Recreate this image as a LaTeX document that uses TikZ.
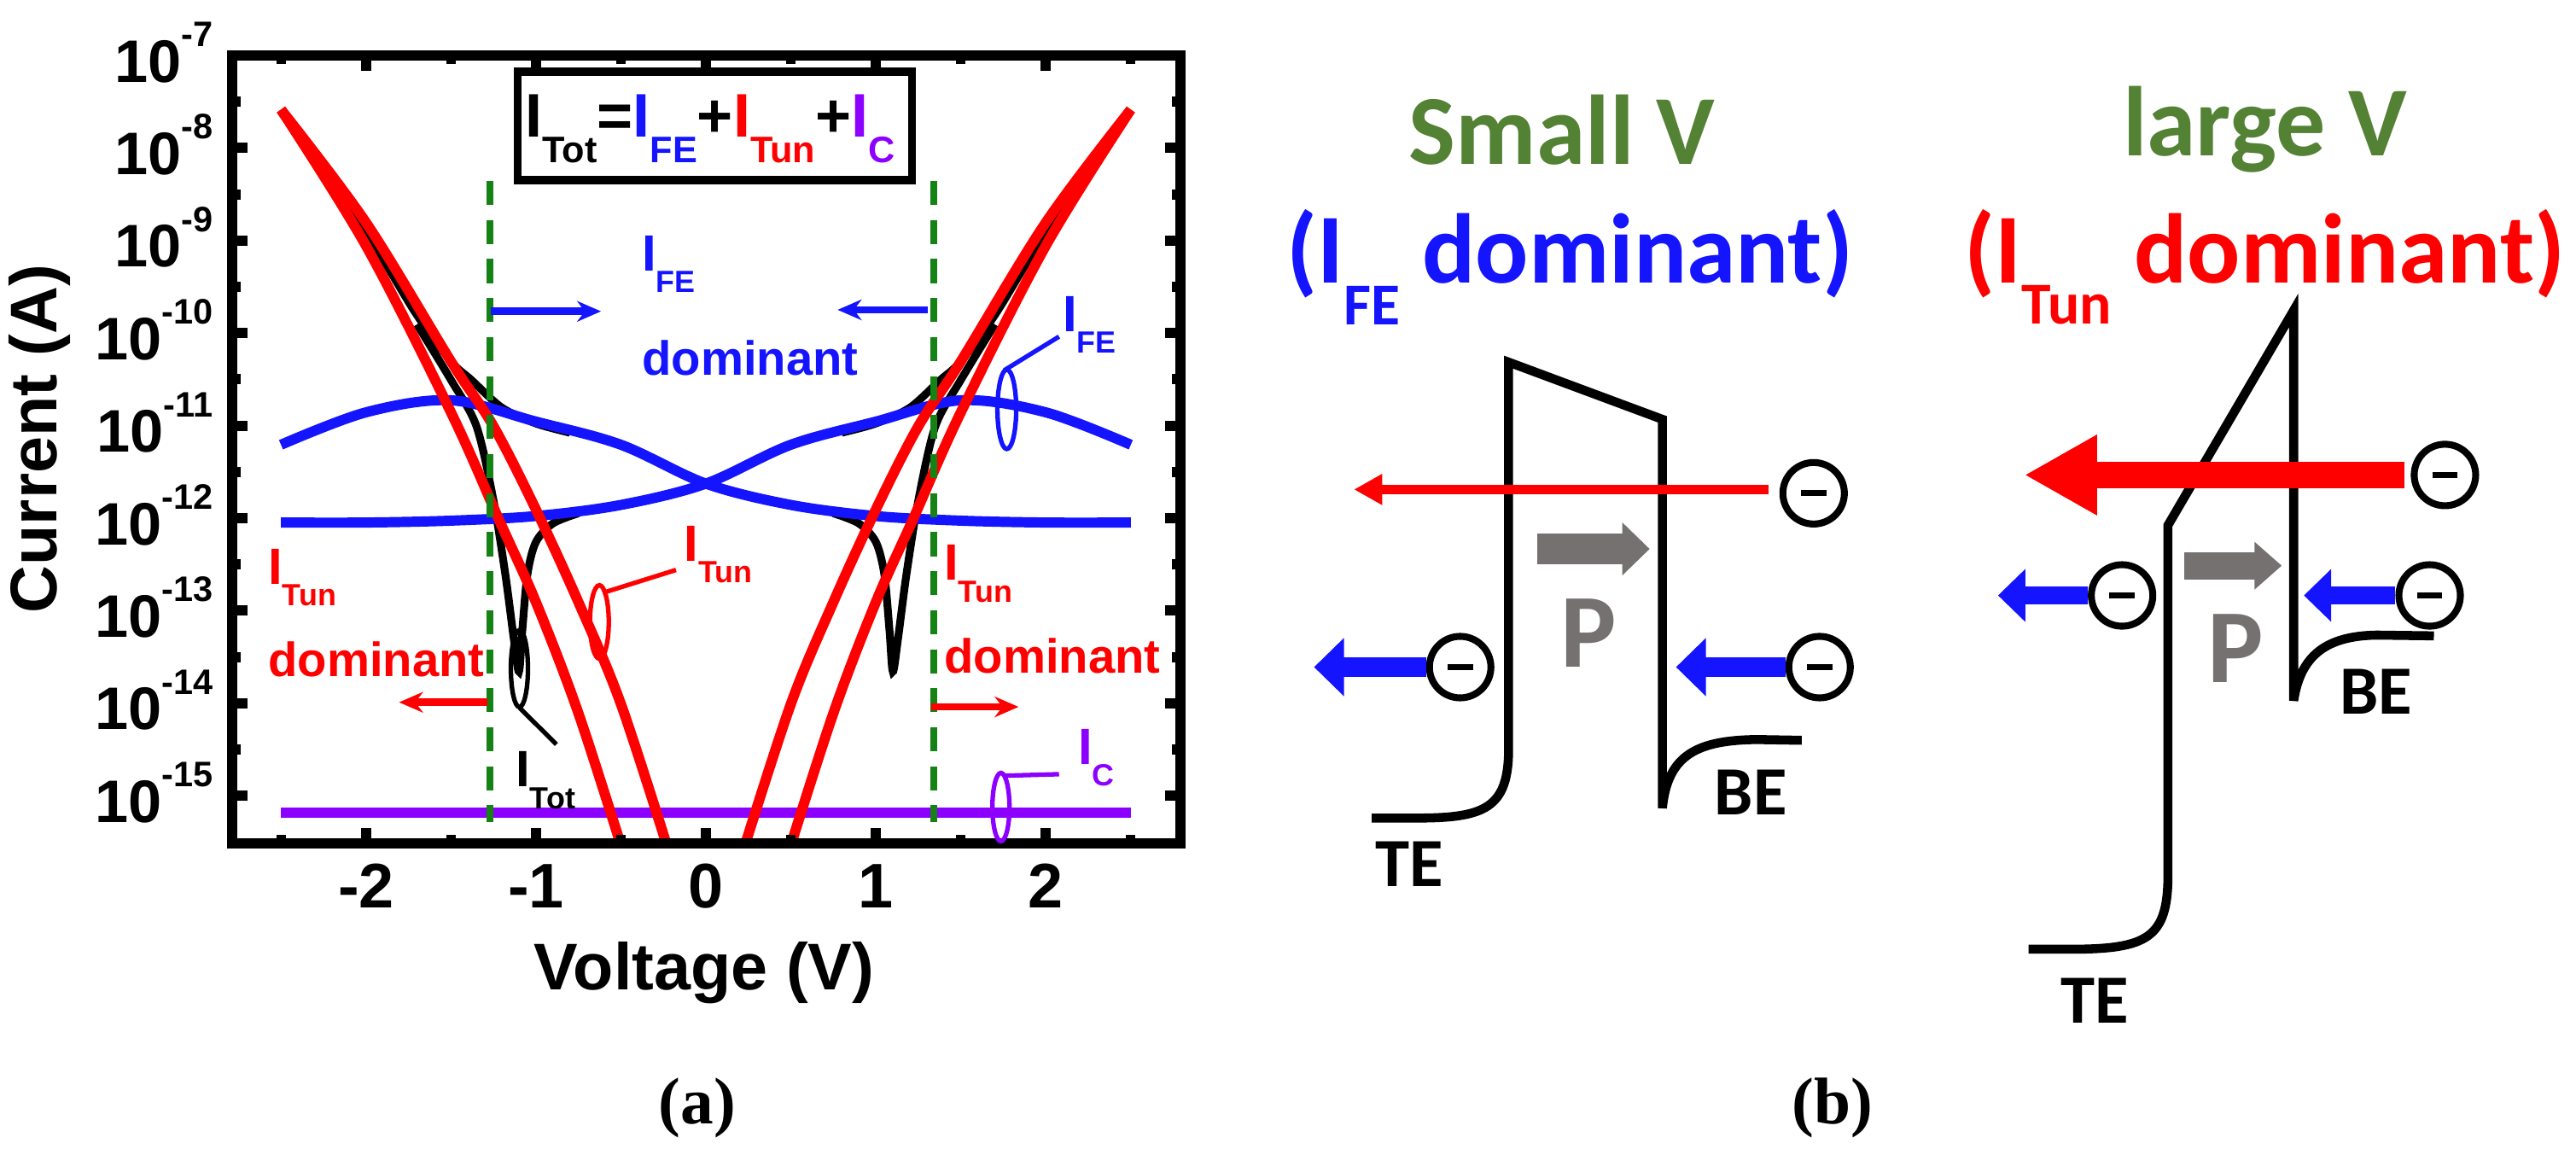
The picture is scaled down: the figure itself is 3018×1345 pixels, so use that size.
\documentclass[tikz,border=0pt]{standalone}
\usepackage{fontspec}
\setmainfont{Liberation Sans}
\newfontfamily\calfont{Carlito}
\newfontfamily\serfont{Liberation Serif}
\usetikzlibrary{arrows.meta,shapes.geometric}
\definecolor{fgreen}{RGB}{84,130,53}
\definecolor{dgreen}{RGB}{20,130,20}
\definecolor{pblue}{RGB}{20,20,255}
\definecolor{pred}{RGB}{255,0,0}
\definecolor{ppur}{RGB}{140,0,255}
\definecolor{pgray}{RGB}{118,113,113}
\newcommand\lo[1]{\raisebox{-0.42em}{\scalebox{0.6}{#1}}}
\newcommand\hi[1]{\raisebox{0.59em}{\scalebox{0.59}{#1}}}
\tikzset{
 lab/.style={font=\fontsize{17}{19}\selectfont\bfseries, inner sep=0pt},
 domi/.style={font=\fontsize{16}{18}\selectfont\bfseries, inner sep=0pt},
 tick/.style={font=\fontsize{20}{22}\selectfont\bfseries, inner sep=0pt},
 band/.style={line width=3pt, line join=miter},
 bl/.style={font=\calfont\fontsize{23}{26}\selectfont\bfseries, inner sep=0pt},
 big/.style={font=\calfont\fontsize{33}{36}\selectfont\bfseries, inner sep=0pt},
 pp/.style={font=\calfont\fontsize{35}{38}\selectfont\bfseries, inner sep=0pt, pgray},
 elec/.style={circle, draw, line width=2.3pt, minimum size=0.72cm, inner sep=0pt,
   path picture={\fill (path picture bounding box.center) ++(-15,-4) rectangle ++(30,8);}},
 curve/.style={line width=3.4pt, smooth, tension=0.55},
 ell/.style={line width=1.5pt},
 sar/.style={line width=2.5pt,-{Stealth[length=0.28cm,width=0.24cm]}},
 ax/.style={line width=3.4pt},
}
\begin{document}
\begin{tikzpicture}[x=0.01cm,y=-0.01cm]
\useasboundingbox (0,0) rectangle (3018,1345);
% ===== panel a : data =====
\begin{scope}
\clip (272,65) rectangle (1383,988);
\begin{scope}[shift={(827,-693.8)},x=1.99cm,y=1.084cm]
 \draw[curve,ppur] (-2.5,-15.17) -- (2.5,-15.17);
 \foreach \s in {1,-1}{
 \draw[line width=2.6pt,black,smooth] plot coordinates {(-2.5*\s,-7.6)(-2.2*\s,-8.35)(-1.9*\s,-9.2)(-1.7*\s,-9.8)(-1.5*\s,-10.3)(-1.38*\s,-10.5)(-1.2*\s,-10.8)(-1*\s,-10.97)(-0.8*\s,-11.07)};
 \draw[line width=2.6pt,black,smooth] plot coordinates {(-1.7*\s,-9.9)(-1.5*\s,-10.5)(-1.35*\s,-11.0)(-1.25*\s,-11.8)(-1.18*\s,-12.6)(-1.13*\s,-13.3)(-1.1*\s,-13.65)(-1.08*\s,-13.2)(-1.05*\s,-12.6)(-1.0*\s,-12.25)(-0.9*\s,-12.05)(-0.75*\s,-11.94)};
 }
 \draw[curve,pblue] plot coordinates {(-2.5,-12.04)(-2,-12.04)(-1.5,-12.02)(-1,-11.97)(-0.5,-11.85)(0,-11.62)(0.5,-11.2)(1,-10.95)(1.5,-10.72)(2,-10.85)(2.5,-11.2)};
 \draw[curve,pblue] plot coordinates {(2.5,-12.04)(2,-12.04)(1.5,-12.02)(1,-11.97)(0.5,-11.85)(0,-11.62)(-0.5,-11.2)(-1,-10.95)(-1.5,-10.72)(-2,-10.85)(-2.5,-11.2)};
 \foreach \s in {1,-1}{
 \draw[curve,pred] plot coordinates {(-2.5*\s,-7.58)(-2*\s,-8.8)(-1.5*\s,-10.3)(-1.25*\s,-11.0)(-1*\s,-11.9)(-0.75*\s,-12.9)(-0.5*\s,-14.0)(-0.2*\s,-15.7)};
 \draw[curve,pred] plot coordinates {(-2.5*\s,-7.58)(-2*\s,-9.05)(-1.5*\s,-10.85)(-1.22*\s,-12.0)(-1*\s,-12.9)(-0.75*\s,-14.1)(-0.47*\s,-15.7)};
 }
\end{scope}
\end{scope}
% frame and ticks
\draw[ax] (272,65) rectangle (1383,988);
\foreach \v/\t in {-2/-2,-1/-1,0/0,1/1,2/2}{
 \draw[ax] (827+199*\v,988) -- ++(0,-18);
 \draw[ax] (827+199*\v,65) -- ++(0,18);
 \node[tick,anchor=base,font=\fontsize{21}{24}\selectfont\bfseries] (xt\t) at (827+199*\v,1063) {\t};}
\foreach \v in {-2.5,-1.5,-0.5,0.5,1.5,2.5}{
 \draw[ax] (827+199*\v,988) -- ++(0,-10);
 \draw[ax] (827+199*\v,65) -- ++(0,10);}
\foreach \e [count=\i from 0] in {7,8,...,15}{
 \draw[ax] (272,65+108.4*\i) -- ++(18,0);
 \draw[ax] (1383,65+108.4*\i) -- ++(-18,0);
 \node[tick,anchor=base east] (yt\e) at (250,65+108.4*\i+31) {10\hi{-\e}};}
\foreach \i in {0,...,7}{
 \draw[ax] (272,65+108.4*\i+54.2) -- ++(10,0);
 \draw[ax] (1383,65+108.4*\i+54.2) -- ++(-10,0);}
\node[rotate=90,font=\fontsize{22}{24}\selectfont\bfseries,inner sep=0pt] (ylab) at (46,514) {Current (A)};
\node[font=\fontsize{22}{24}\selectfont\bfseries,inner sep=0pt] (xlab) at (825,1140) {Voltage (V)};
% legend
\node[draw,line width=2.6pt,minimum width=4.62cm,minimum height=1.27cm,inner sep=0pt,fill=white] (leg) at (837.5,147.5) {};
\node[anchor=base,font=\fontsize{20.5}{24}\selectfont\bfseries,inner sep=0pt] (legt) at (832,160) {I\lo{Tot}=\textcolor{pblue}{I\lo{FE}}+\textcolor{pred}{I\lo{Tun}}+\textcolor{ppur}{I\lo{C}}};
% dashed lines
\coordinate (d1t) at (574,212); \coordinate (d1b) at (574,963);
\coordinate (d2t) at (1094,212); \coordinate (d2b) at (1094,963);
\draw[dgreen,line width=2.3pt,dash pattern=on 8pt off 5pt] (d1t) -- (d1b);
\draw[dgreen,line width=2.3pt,dash pattern=on 8pt off 5pt] (d2t) -- (d2b);
\node[font=\serfont\fontsize{22}{24}\selectfont\bfseries,inner sep=0pt] (pa) at (817,1298) {(a)};
\node[font=\serfont\fontsize{22}{24}\selectfont\bfseries,inner sep=0pt] (pb) at (2147,1298) {(b)};
% annotations (scaled frame)
\begin{scope}[x=0.00985cm,y=-0.00896cm]
\node[lab,pblue,anchor=west] (ife1) at (762,345) {I\lo{FE}};
\node[domi,pblue,anchor=west] (dom1) at (762,468) {dominant};
\coordinate (ba1) at (583,407); \coordinate (ba2) at (714,407);
\coordinate (ba3) at (1102,405); \coordinate (ba4) at (995,405);
\draw[pblue,sar] (ba1) -- (ba2);
\draw[pblue,sar] (ba3) -- (ba4);
\node[draw=pblue,ell,ellipse,minimum width=0.22cm,minimum height=0.93cm,inner sep=0pt] (e1) at (1196,535) {};
\coordinate (e1a) at (1258,440);
\draw[pblue,ell] (1193,484) -- (e1a);
\node[lab,pblue,anchor=west] (ife2) at (1262,425) {I\lo{FE}};
\node[draw=pred,ell,ellipse,minimum width=0.22cm,minimum height=0.86cm,inner sep=0pt] (e2) at (712,813) {};
\coordinate (e2a) at (803,745);
\draw[pred,ell] (716,775) -- (e2a);
\node[lab,pred,anchor=west] (it2) at (812,725) {I\lo{Tun}};
\node[lab,pred,anchor=west] (it3) at (318,755) {I\lo{Tun}};
\node[domi,pred,anchor=west] (dm3) at (318,862) {dominant};
\node[lab,pred,anchor=west] (it4) at (1121,750) {I\lo{Tun}};
\node[domi,pred,anchor=west] (dm4) at (1121,857) {dominant};
\coordinate (ra1) at (579,918); \coordinate (ra2) at (474,918);
\coordinate (ra3) at (1106,924); \coordinate (ra4) at (1210,924);
\draw[pred,sar] (ra1) -- (ra2);
\draw[pred,sar] (ra3) -- (ra4);
\node[draw=black,ell,ellipse,minimum width=0.2cm,minimum height=0.9cm,inner sep=0pt] (e3) at (617,874) {};
\coordinate (e3a) at (661,973);
\draw[ell] (617,925) -- (e3a);
\node[lab,anchor=west] (itot) at (612,1020) {I\lo{Tot}};
\node[draw=ppur,ell,ellipse,minimum width=0.2cm,minimum height=0.8cm,inner sep=0pt] (e4) at (1189,1055) {};
\coordinate (e4a) at (1258,1012);
\draw[ppur,ell] (1193,1014) -- (e4a);
\node[lab,ppur,anchor=west] (ic) at (1280,990) {I\lo{C}};
\end{scope}
% ===== panel b =====
\begin{scope}[xshift=0.075cm,x=0.00995cm,y=-0.00892cm]
\node[big,fgreen] (sv) at (1831,170) {Small V};
\node[big,pblue] (sd) at (1840,350) {(I\lo{FE} dominant)};
\node[big,fgreen] (lv) at (2658,170) {large V};
\node[big,pred] (ld) at (2658,350) {(I\lo{Tun} dominant)};
% small V band
\draw[band] (1607,1073) -- (1660,1073) .. controls (1740,1073) and (1768,1060) .. (1768,982) -- (1768,475) -- (1949,550) -- (1949,1060) .. controls (1955,990) and (1990,971) .. (2060,970) -- (2113,971);
\node[bl] (te1) at (1651,1133) {TE};
\node[bl] (be1) at (2053,1039) {BE};
\node[elec] (c1) at (2127,647) {};
\coordinate (r1e) at (1586,642);
\coordinate (r1s) at (2074,642);
\draw[pred,line width=3pt,-{Triangle[length=0.33cm,width=0.34cm]}] (r1s) -- (r1e);
\coordinate (g1s) at (1802,720); \coordinate (g1e) at (1934,720);
\draw[pgray,line width=10pt,-{Triangle[length=0.32cm,width=0.6cm]}] (g1s) -- (g1e);
\node[pp] (p1) at (1862,830) {P};
\node[elec] (c2) at (1711,875) {};
\node[elec] (c3) at (2134,875) {};
\coordinate (b1e) at (1539,875); \coordinate (b2e) at (1965,875);
\draw[pblue,line width=6.5pt,-{Triangle[length=0.35cm,width=0.66cm]}] (c2.west) -- (b1e);
\draw[pblue,line width=6.5pt,-{Triangle[length=0.35cm,width=0.66cm]}] (c3.west) -- (b2e);
% large V band
\draw[band] (2380,1245) -- (2430,1245) .. controls (2520,1245) and (2544,1230) .. (2544,1148) -- (2544,689) -- (2692,407) -- (2692,919) .. controls (2700,860) and (2730,834) .. (2790,833) -- (2857,834);
\node[bl] (te2) at (2458,1313) {TE};
\node[bl] (be2) at (2789,907) {BE};
\node[elec] (c4) at (2870,623) {};
\coordinate (r2e) at (2375,623);
\coordinate (r2s) at (2822,623);
\draw[pred,line width=9pt,-{Triangle[length=0.85cm,width=0.88cm]}] (r2s) -- (r2e);
\coordinate (g2s) at (2563,742); \coordinate (g2e) at (2678,742);
\draw[pgray,line width=9pt,-{Triangle[length=0.32cm,width=0.54cm]}] (g2s) -- (g2e);
\node[pp] (p2) at (2624,851) {P};
\node[elec] (c5) at (2490,781) {};
\node[elec] (c6) at (2852,781) {};
\coordinate (b3e) at (2344,781); \coordinate (b4e) at (2704,781);
\draw[pblue,line width=6pt,-{Triangle[length=0.32cm,width=0.6cm]}] (c5.west) -- (b3e);
\draw[pblue,line width=6pt,-{Triangle[length=0.32cm,width=0.6cm]}] (c6.west) -- (b4e);
\end{scope}
\end{tikzpicture}
\end{document}
